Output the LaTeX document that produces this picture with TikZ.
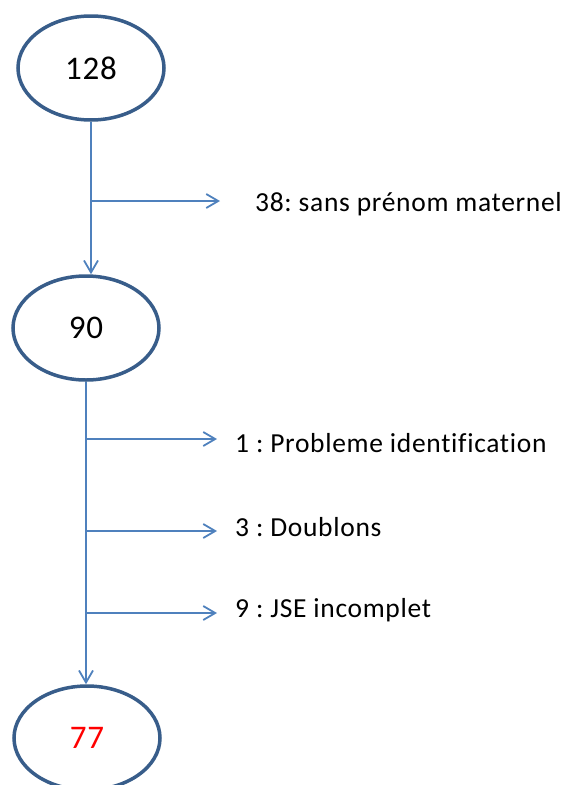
\documentclass[tikz,border=0pt]{standalone}
\usepackage{fontspec}
\setmainfont[LetterSpace=2.5, Ligatures=NoCommon]{Carlito}
\usetikzlibrary{shapes.geometric,arrows.meta}
\definecolor{bordbleu}{HTML}{385D8A}
\definecolor{flechebleu}{HTML}{4F81BD}

\tikzset{
	effectif/.style={ellipse, draw=bordbleu, line width=3.5pt, minimum width=146pt, minimum height=104pt, inner sep=0pt, font=\fontsize{33}{38}\selectfont},
	motif/.style={anchor=base west, inner sep=0pt, font=\fontsize{27.5}{32}\selectfont},
	fleche/.style={draw=flechebleu, line width=1.8pt, -{Straight Barb[length=12pt,width=14pt,line width=1.8pt]}}
}

\begin{document}
\frenchspacing
\begin{tikzpicture}[x=1pt, y=-1pt]
	\useasboundingbox (0,0) rectangle (568,785);

	\node[effectif] (n128) at (91,68) {128};
	\node[effectif] (n90) at (86,328) {90};
	\node[effectif, text=red] (n77) at (87,738) {77};

	\node[motif] (t38) at (255,211) {38: sans prénom maternel};
	\node[motif] (t1) at (235,452) {1 : Probleme identification};
	\node[motif] (t3) at (235,536) {3 : Doublons};
	\node[motif] (t9) at (235,617) {9 : JSE incomplet};

	\coordinate (b38) at (91,201);
	\coordinate (b1) at (86,439);
	\coordinate (b3) at (86,531);
	\coordinate (b9) at (86,613);

	\draw[fleche] (n128.south) -- (n128.south |- n90.north);
	\draw[fleche] (n90.south) -- (n90.south |- n77.north);

	\draw[fleche, shorten >=35pt] (b38) -- (b38 -| t38.west);
	\draw[fleche, shorten >=18pt] (b1) -- (b1 -| t1.west);
	\draw[fleche, shorten >=18pt] (b3) -- (b3 -| t3.west);
	\draw[fleche, shorten >=18pt] (b9) -- (b9 -| t9.west);

\end{tikzpicture}
\end{document}
